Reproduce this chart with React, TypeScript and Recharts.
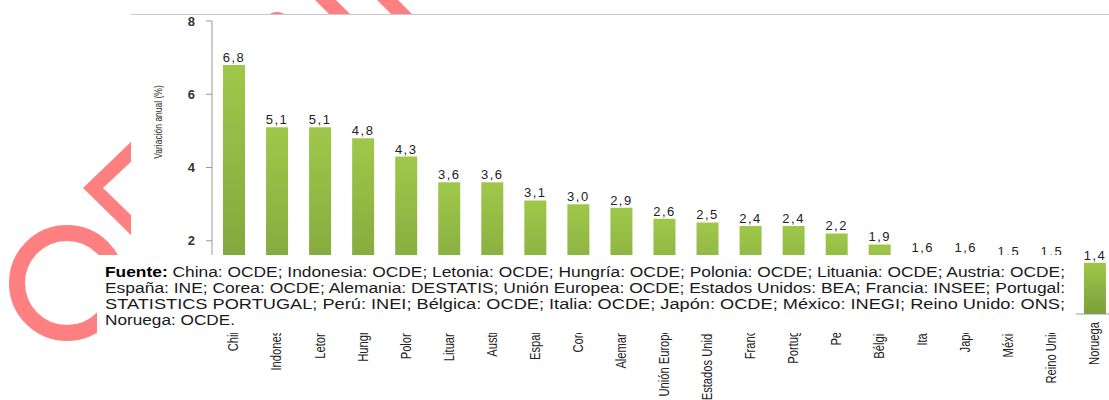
import React from 'react';
import { BarChart, Bar, XAxis, YAxis, LabelList } from 'recharts';

const categories = [
  'China', 'Indonesia', 'Letonia', 'Hungría', 'Polonia', 'Lituania', 'Austria',
  'España', 'Corea', 'Alemania', 'Unión Europea', 'Estados Unidos', 'Francia',
  'Portugal', 'Perú', 'Bélgica', 'Italia', 'Japón', 'México', 'Reino Unido', 'Noruega',
];
const values = [6.8, 5.1, 5.1, 4.8, 4.3, 3.6, 3.6, 3.1, 3.0, 2.9, 2.6, 2.5, 2.4, 2.4, 2.2, 1.9, 1.6, 1.6, 1.5, 1.5, 1.4];
const yTicks = [2, 4, 6, 8];
const yLabel = 'Variación anual (%)';
const sourceTitle = 'Fuente:';
const sourceLines = [
  'China: OCDE; Indonesia: OCDE; Letonia: OCDE; Hungría: OCDE; Polonia: OCDE; Lituania: OCDE; Austria: OCDE;',
  'España: INE; Corea: OCDE; Alemania: DESTATIS; Unión Europea: OCDE; Estados Unidos: BEA; Francia: INSEE; Portugal:',
  'STATISTICS PORTUGAL; Perú: INEI; Bélgica: OCDE; Italia: OCDE; Japón: OCDE; México: INEGI; Reino Unido: ONS;',
  'Noruega: OCDE.',
];

const data = categories.map((name, i) => ({ name, value: values[i] }));

const FONT = '"Liberation Sans", Arial, sans-serif';
const RED = '#ff8080';
const fmt = (v: number) => v.toFixed(1).replace('.', ',');

const CategoryTick = (props: any) => {
  const { x, y, payload } = props;
  return (
    <g transform={`translate(${x},${y})`}>
      <text
        transform="rotate(-90) scale(0.8,1)"
        textAnchor="end"
        dy="0.35em"
        fontSize={14}
        fill="#222"
        fontFamily={FONT}
      >
        {payload.value}
      </text>
    </g>
  );
};

// red decoration behind the chart picture
const Backdrop = () => (
  <svg width={1109} height={400} style={{ position: 'absolute', left: 0, top: 0 }}>
    <circle cx={67} cy={283} r={50} fill="none" stroke={RED} strokeWidth={16} />
    <polygon points="135,138 83,188 135,239 135,219 103,188 135,158" fill={RED} />
    <polygon points="315,0 336,0 356,20 335,20" fill={RED} />
    <polygon points="377,0 398,0 418,20 397,20" fill={RED} />
    <circle cx={277} cy={26} r={14} fill={RED} />
    <rect x={97} y={255} width={40} height={92} fill="#fff" />
    <rect x={131} y={14} width={978} height={386} fill="#fff" />
    <line x1={131} y1={14.5} x2={1109} y2={14.5} stroke="#c8c8c8" />
    <text
      transform="translate(162,122) rotate(-90) scale(0.85,1)"
      textAnchor="middle"
      fontSize={10}
      fill="#333"
      fontFamily={FONT}
    >
      {yLabel}
    </text>
  </svg>
);

// white text box with the source note, laid over the chart
const lineLengths = [960, 960, 960, 130];
const SourceBox = () => (
  <svg width={1109} height={400} style={{ position: 'absolute', left: 0, top: 0 }}>
    <rect x={97} y={255} width={979} height={78} fill="#fff" />
    {sourceLines.map((line, i) => (
      <text
        key={i}
        x={105}
        y={277 + i * 16}
        fontSize={14}
        fill="#1a1a1a"
        fontFamily={FONT}
        textLength={lineLengths[i]}
        lengthAdjust="spacingAndGlyphs"
      >
        {i === 0 && <tspan fontWeight={700} fill="#000">{sourceTitle} </tspan>}
        {line}
      </text>
    ))}
  </svg>
);

export default function App() {
  return (
    <div style={{ position: 'fixed', left: 0, top: 0, width: 1109, height: 400, overflow: 'hidden', background: '#fff' }}>
      <Backdrop />
      <div style={{ position: 'absolute', left: 0, top: 0 }}>
        <BarChart width={1120} height={404} data={data} margin={{ top: 21, right: 4, left: 152, bottom: 0 }}>
          <defs>
            <linearGradient id="barGreen" x1="0" y1="0" x2="0" y2="1">
              <stop offset="0%" stopColor="#9fc84a" />
              <stop offset="100%" stopColor="#7a9f3a" />
            </linearGradient>
          </defs>
          <XAxis
            dataKey="name"
            interval={0}
            height={90}
            tickLine={false}
            axisLine={{ stroke: '#999' }}
            tick={<CategoryTick />}
          />
          <YAxis
            width={60}
            domain={[0, 8]}
            ticks={yTicks}
            tickSize={6}
            tickMargin={11}
            axisLine={{ stroke: '#999' }}
            tickLine={{ stroke: '#999' }}
            tick={{ fontSize: 13, fontWeight: 700, fill: '#333', fontFamily: FONT }}
          />
          <Bar dataKey="value" barSize={22} fill="url(#barGreen)" isAnimationActive={false}>
            <LabelList
              dataKey="value"
              position="top"
              offset={3}
              formatter={(v: any) => fmt(Number(v))}
              style={{ fontSize: 13, fill: '#222', fontFamily: FONT, letterSpacing: 1.5 }}
            />
          </Bar>
        </BarChart>
      </div>
      <SourceBox />
    </div>
  );
}
